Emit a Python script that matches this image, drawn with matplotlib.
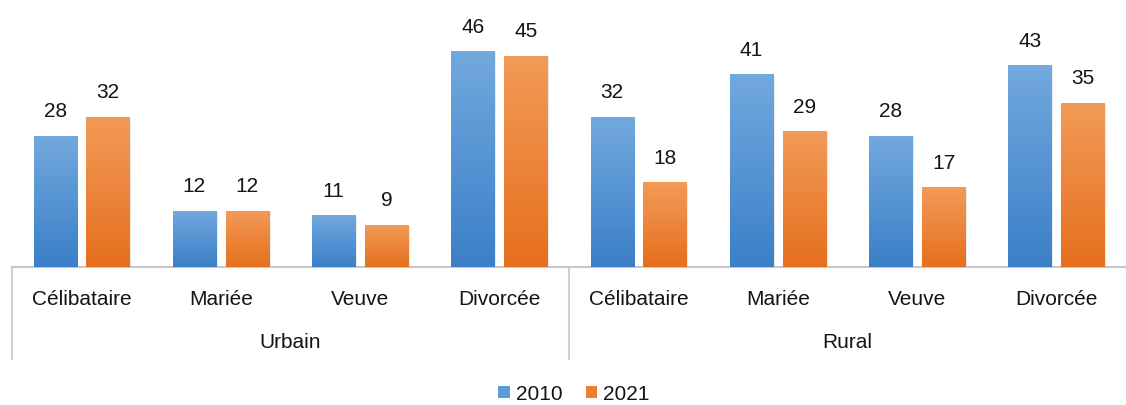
import numpy as np
import matplotlib.pyplot as plt
import matplotlib.transforms as mtransforms
from matplotlib.patches import Patch
from matplotlib.colors import LinearSegmentedColormap

plt.rcParams['font.family'] = ['Liberation Sans', 'DejaVu Sans']

# Données : part (%) par état matrimonial, milieu urbain puis rural
categories = ['Célibataire', 'Mariée', 'Veuve', 'Divorcée',
              'Célibataire', 'Mariée', 'Veuve', 'Divorcée']
groups = ['Urbain', 'Rural']
values_2010 = [28, 12, 11, 46, 32, 41, 28, 43]
values_2021 = [32, 12, 9, 45, 18, 29, 17, 35]

blue_cmap = LinearSegmentedColormap.from_list('b', ['#3b7fc8', '#72a9de'])
orange_cmap = LinearSegmentedColormap.from_list('o', ['#e66f1e', '#f29b58'])

FS = 15
TXT = '#141414'

fig = plt.figure(figsize=(11.26, 4.06), dpi=100)
ax = fig.add_axes([12 / 1126, 138 / 406, 1 - 12 / 1126, 263 / 406])

x = np.arange(len(categories))
w = 0.31
off = 0.19
grad = np.linspace(0, 1, 256).reshape(-1, 1)


def gradient_bars(xs, vals, cmap, face):
    bars = ax.bar(xs, vals, width=w, color=face, edgecolor='none', zorder=2)
    for b in bars:
        x0, y0 = b.get_x(), b.get_y()
        # petite ombre portée
        ax.bar(x0 + w / 2 + 0.012, b.get_height(), width=w, bottom=-0.3,
               color='#000000', alpha=0.08, edgecolor='none', zorder=1)
        im = ax.imshow(grad, extent=(x0, x0 + w, y0, y0 + b.get_height()),
                       origin='lower', aspect='auto', cmap=cmap, zorder=3)
        im.set_clip_path(b)
        ax.annotate(str(int(b.get_height())), (x0 + w / 2, b.get_height()),
                    xytext=(0, 11), textcoords='offset points',
                    ha='center', va='bottom', fontsize=FS, color=TXT,
                    zorder=4)
    return bars


gradient_bars(x - off, values_2010, blue_cmap, '#5b9bd5')
gradient_bars(x + off, values_2021, orange_cmap, '#ed7d31')

ax.set_xlim(-0.5, 7.5)
ax.set_ylim(0, 56)
ax.set_xticks([])
ax.set_yticks([])
for s in ['top', 'right', 'left']:
    ax.spines[s].set_visible(False)
ax.spines['bottom'].set_color('#c8c8c8')
ax.spines['bottom'].set_linewidth(1.5)

# étiquettes des catégories et des milieux sous l'axe
trans = mtransforms.blended_transform_factory(ax.transData, fig.transFigure)
for xi, lab in zip(x, categories):
    ax.text(xi, 1 - 300 / 406, lab, transform=trans, ha='center', va='center',
            fontsize=FS, color=TXT)
for gi, g in enumerate(groups):
    ax.text(gi * 4 + 1.5, 1 - 343 / 406, g, transform=trans, ha='center',
            va='center', fontsize=FS, color=TXT)
for xs in [-0.5, 3.5]:
    ax.plot([xs, xs], [138 / 406, 1 - 360 / 406], transform=trans,
            color='#d0d0d0', lw=1.5, clip_on=False)

handles = [Patch(facecolor='#5b9bd5', label='2010'),
           Patch(facecolor='#ed7d31', label='2021')]
fig.legend(handles=handles, loc='center', bbox_to_anchor=(574 / 1126, 1 - 395 / 406),
           ncol=2, frameon=False, fontsize=FS, handlelength=0.55,
           handleheight=0.55, handletextpad=0.3, columnspacing=1.1,
           borderpad=0.0, labelcolor=TXT)

fig.savefig('out.png', dpi=100)
